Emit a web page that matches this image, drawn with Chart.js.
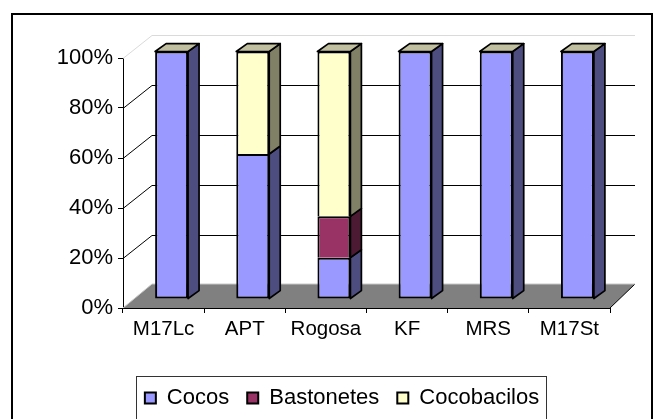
<!DOCTYPE html>
<html><head><meta charset="utf-8">
<script src="https://cdn.jsdelivr.net/npm/chart.js@4/dist/chart.umd.min.js"></script>
<style>html,body{margin:0;padding:0;background:#fff}#wrap{width:660px;height:419px}</style>
</head><body><div id="wrap"><canvas id="c" width="660" height="419"></canvas></div>
<script>
// ---- data ----
const categories = ['M17Lc', 'APT', 'Rogosa', 'KF', 'MRS', 'M17St'];
const seriesNames = ['Cocos', 'Bastonetes', 'Cocobacilos'];
const cocos = [100, 58.6, 16.7, 100, 100, 100];
const bastonetes = [0, 0, 16.7, 0, 0, 0];
const cocobacilos = [0, 41.4, 66.6, 0, 0, 0];
const yTickValues = [0, 20, 40, 60, 80, 100];

// ---- styles ----
const FONT = "'Liberation Sans', Arial, sans-serif";
const frontColors = ['#9999FF', '#993366', '#FFFFCC'];
const sideColors = ['#4D4D80', '#4D1A33', '#808066'];
const topColors = ['#7373BF', '#732650', '#C0C0A0'];
const WALL = { dxL: 29, dxR: 25, dy: -23 };
const BAR = { dx: 8, dy: -9, sy: 0.99, depthX: 11, depthY: -8 };

const seriesValues = [cocos, bastonetes, cocobacilos];

const threeD = {
  id: 'threeD',
  beforeDraw(chart) {
    const ctx = chart.ctx;
    ctx.save();
    ctx.fillStyle = '#fff';
    ctx.fillRect(0, 0, chart.width, chart.height);
    ctx.restore();
  },
  afterLayout(chart) {
    if (chart.legend) {
      chart.legend.left += 37;
      chart.legend.right += 37;
    }
  },
  beforeDatasetsDraw(chart) {
    const { ctx, chartArea: a, scales: { y } } = chart;
    const yb = y.getPixelForValue(0);
    ctx.save();
    // floor
    ctx.beginPath();
    ctx.moveTo(a.left, yb);
    ctx.lineTo(a.right, yb);
    ctx.lineTo(a.right + WALL.dxR, yb + WALL.dy - 1);
    ctx.lineTo(a.left + WALL.dxL, yb + WALL.dy - 1);
    ctx.closePath();
    ctx.fillStyle = '#808080';
    ctx.fill();
    ctx.lineWidth = 1;
    ctx.strokeStyle = '#000';
    ctx.beginPath();
    ctx.moveTo(a.right, yb);
    ctx.lineTo(a.right + WALL.dxR, yb + WALL.dy - 1);
    ctx.stroke();
    ctx.strokeStyle = '#C8C8C8';
    ctx.beginPath();
    ctx.moveTo(a.left, yb);
    ctx.lineTo(a.left + WALL.dxL, yb + WALL.dy - 1);
    ctx.lineTo(a.right + WALL.dxR, yb + WALL.dy - 1);
    ctx.stroke();
    // back wall gridlines and side-wall diagonals
    yTickValues.forEach(v => {
      if (v === 0) return;
      const py = Math.round(y.getPixelForValue(v));
      const by = py + WALL.dy;
      ctx.strokeStyle = v === 100 ? '#DADADA' : '#000';
      ctx.lineWidth = 1;
      ctx.beginPath();
      ctx.moveTo(a.left + WALL.dxL, by + 0.5);
      ctx.lineTo(a.right + WALL.dxR, by + 0.5);
      ctx.stroke();
      ctx.beginPath();
      ctx.moveTo(a.left, py + 0.5);
      ctx.lineTo(a.left + WALL.dxL, by + 0.5);
      ctx.stroke();
    });
    ctx.restore();
    // place the bars in the middle of the depth
    ctx.save();
    ctx.translate(BAR.dx, yb + BAR.dy);
    ctx.scale(1, BAR.sy);
    ctx.translate(0, -yb);
  },
  afterDatasetsDraw(chart) {
    const ctx = chart.ctx;
    const n = chart.data.datasets.length;
    ctx.lineWidth = 1.7;
    ctx.strokeStyle = '#000';
    ctx.lineJoin = 'round';
    chart.data.datasets.forEach((ds, i) => {
      const meta = chart.getDatasetMeta(i);
      meta.data.forEach(el => {
        const { x, y, base, width } = el.getProps(['x', 'y', 'base', 'width'], true);
        const l = x - width / 2, r = x + width / 2;
        const top = Math.min(y, base), bot = Math.max(y, base);
        if (bot - top > 0.5) {
          ctx.beginPath();
          ctx.moveTo(r, bot);
          ctx.lineTo(r, top);
          ctx.lineTo(r + BAR.depthX, top + BAR.depthY);
          ctx.lineTo(r + BAR.depthX, bot + BAR.depthY);
          ctx.closePath();
          ctx.fillStyle = sideColors[i];
          ctx.fill();
          ctx.stroke();
        }
        if (i === n - 1) {
          ctx.beginPath();
          ctx.moveTo(l, top);
          ctx.lineTo(l + BAR.depthX, top + BAR.depthY);
          ctx.lineTo(r + BAR.depthX, top + BAR.depthY);
          ctx.lineTo(r, top);
          ctx.closePath();
          ctx.fillStyle = topColors[i];
          ctx.fill();
          ctx.stroke();
        }
      });
    });
    ctx.restore();
  },
  afterDraw(chart) {
    const ctx = chart.ctx;
    ctx.save();
    // legend frame
    ctx.strokeStyle = '#333';
    ctx.lineWidth = 1;
    ctx.strokeRect(136.5, 376.5, 410, 60);
    // outer frame
    ctx.strokeStyle = '#000';
    ctx.lineWidth = 2;
    ctx.strokeRect(12, 14, 640, 420);
    ctx.restore();
  }
};

new Chart(document.getElementById('c'), {
  type: 'bar',
  data: {
    labels: categories,
    datasets: seriesNames.map((name, i) => ({
      label: name,
      data: seriesValues[i],
      backgroundColor: frontColors[i],
      borderColor: '#000',
      borderWidth: 2,
      borderSkipped: i === 0 ? false : 'start',
      stack: 's',
      categoryPercentage: 0.406,
      barPercentage: 1,
      clip: false
    }))
  },
  options: {
    responsive: false,
    animation: false,
    devicePixelRatio: 1,
    events: [],
    layout: { padding: { left: 0, right: 50, top: 58, bottom: 0 } },
    plugins: {
      tooltip: { enabled: false },
      legend: {
        position: 'bottom',
        labels: {
          boxWidth: 11,
          boxHeight: 11,
          padding: 18,
          color: '#000',
          font: { family: FONT, size: 22 }
        }
      }
    },
    scales: {
      x: {
        stacked: true,
        z: 1,
        grid: { display: true, drawOnChartArea: false, drawTicks: true, tickLength: 5, tickColor: '#000', offset: true },
        border: { display: true, color: '#000', width: 1 },
        ticks: { color: '#000', font: { family: FONT, size: 20.5 }, padding: 4, maxRotation: 0, autoSkip: false },
        afterFit(scale) { scale.height = 61; }
      },
      y: {
        stacked: true,
        min: 0,
        max: 100,
        z: 1,
        afterBuildTicks(scale) { scale.ticks = yTickValues.map(v => ({ value: v })); },
        grid: { display: true, drawOnChartArea: false, drawTicks: true, tickLength: 5, tickColor: '#000' },
        border: { display: true, color: '#000', width: 1 },
        ticks: { color: '#000', font: { family: FONT, size: 22 }, padding: 5, callback: v => v + '%' },
        afterFit(scale) { scale.width = 123; }
      }
    }
  },
  plugins: [threeD]
});
</script>
</body></html>
